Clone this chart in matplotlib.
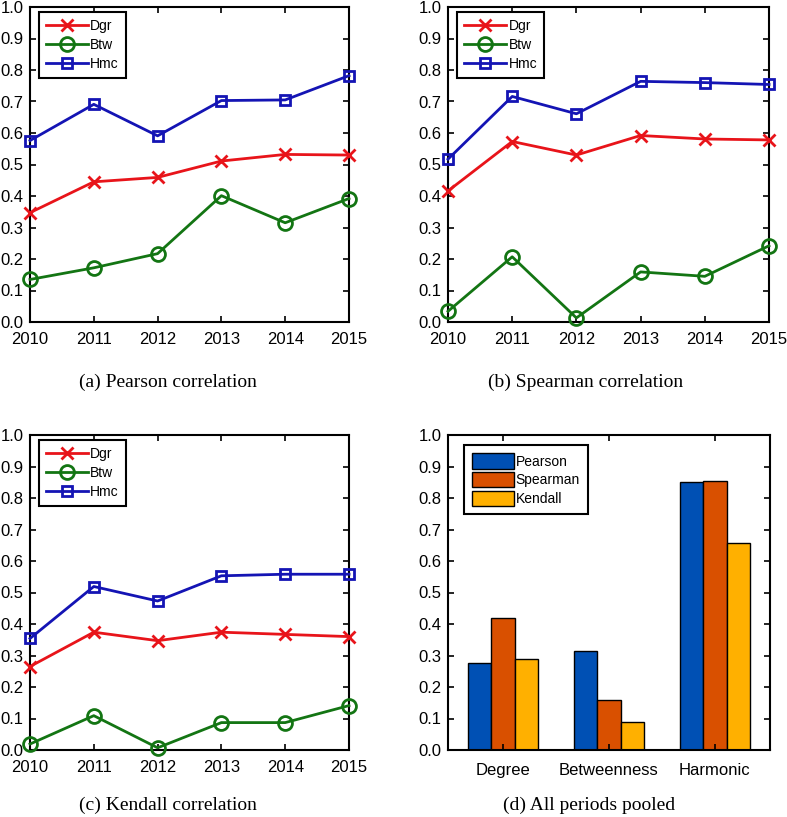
import numpy as np
import matplotlib
matplotlib.use("Agg")
from matplotlib import pyplot as plt

years = [2010, 2011, 2012, 2013, 2014, 2015]

# (a) Pearson
pearson_dgr = [0.347, 0.445, 0.459, 0.511, 0.532, 0.530]
pearson_btw = [0.135, 0.172, 0.217, 0.401, 0.315, 0.392]
pearson_hmc = [0.576, 0.691, 0.591, 0.703, 0.705, 0.782]

# (b) Spearman
spearman_dgr = [0.416, 0.573, 0.530, 0.592, 0.581, 0.578]
spearman_btw = [0.034, 0.207, 0.013, 0.159, 0.145, 0.242]
spearman_hmc = [0.517, 0.716, 0.661, 0.764, 0.760, 0.754]

# (c) Kendall
kendall_dgr = [0.265, 0.374, 0.347, 0.374, 0.367, 0.360]
kendall_btw = [0.019, 0.109, 0.007, 0.087, 0.087, 0.141]
kendall_hmc = [0.354, 0.519, 0.473, 0.553, 0.558, 0.558]

# (d) pooled
measures = ["Degree", "Betweenness", "Harmonic"]
pooled_pearson = [0.275, 0.314, 0.852]
pooled_spearman = [0.420, 0.159, 0.855]
pooled_kendall = [0.288, 0.088, 0.658]

plt.rcParams['font.family'] = ['Liberation Sans', 'DejaVu Sans']
plt.rcParams['font.size'] = 12

fig = plt.figure(figsize=(7.87, 8.17), dpi=100)

W, H = 787.0, 817.0


def make_axes(l, r, t, b):
    ax = fig.add_axes([l / W, 1 - b / H, (r - l) / W, (b - t) / H])
    for s in ax.spines.values():
        s.set_linewidth(1.5)
    ax.tick_params(direction='in', length=4, width=1.2, top=True, right=True,
                   labelsize=12)
    ax.tick_params(axis='y', pad=4.5)
    ax.tick_params(axis='x', pad=7)
    ax.set_ylim(0, 1)
    ax.set_yticks(np.arange(0, 1.01, 0.1))
    ax.set_yticklabels(["%.1f" % v for v in np.arange(0, 1.01, 0.1)])
    return ax


def line_panel(ax, dgr, btw, hmc):
    ax.plot(years, dgr, color='#e8141a', marker='x', markersize=9, mew=2,
            lw=2, label='Dgr', clip_on=False, zorder=3)
    ax.plot(years, btw, color='#137513', marker='o', markersize=10, mew=2,
            mfc='none', lw=2, label='Btw', clip_on=False, zorder=3)
    ax.plot(years, hmc, color='#1414b4', marker='s', markersize=7.5, mew=2,
            mfc='none', lw=2, label='Hmc', clip_on=False, zorder=3)
    ax.set_xlim(2010, 2015)
    ax.set_xticks(years)
    leg = ax.legend(loc='upper left', bbox_to_anchor=(0.028, 0.984),
                    borderaxespad=0, fontsize=10, handlelength=3,
                    handletextpad=0.2, labelspacing=0.35, borderpad=0.5,
                    fancybox=False, framealpha=1, edgecolor='black')
    leg.get_frame().set_linewidth(1.5)


ax_a = make_axes(30, 349, 7, 322)
line_panel(ax_a, pearson_dgr, pearson_btw, pearson_hmc)
ax_b = make_axes(448, 769, 7, 322)
line_panel(ax_b, spearman_dgr, spearman_btw, spearman_hmc)
ax_c = make_axes(30, 349, 435, 750)
line_panel(ax_c, kendall_dgr, kendall_btw, kendall_hmc)

ax_d = make_axes(448, 770, 435, 750)
x = np.arange(1, len(measures) + 1)
bw = 0.222
ax_d.bar(x - bw, pooled_pearson, bw, color='#0050b4', edgecolor='black',
         lw=1, label='Pearson')
ax_d.bar(x, pooled_spearman, bw, color='#d95000', edgecolor='black',
         lw=1, label='Spearman')
ax_d.bar(x + bw, pooled_kendall, bw, color='#ffb000', edgecolor='black',
         lw=1, label='Kendall')
ax_d.set_xlim(0.48, 3.52)
ax_d.set_xticks(x)
ax_d.set_xticklabels(measures)
ax_d.tick_params(axis='x', pad=9.5)
leg = ax_d.legend(loc='upper left', bbox_to_anchor=(0.05, 0.968),
                  borderaxespad=0, fontsize=10, handlelength=3,
                  handleheight=1.3, handletextpad=0.1, labelspacing=0.25,
                  borderpad=0.6, fancybox=False, framealpha=1,
                  edgecolor='black')
leg.get_frame().set_linewidth(1.5)

caps = [("(a) Pearson correlation", 168, 382),
        ("(b) Spearman correlation", 586, 382),
        ("(c) Kendall correlation", 168, 805),
        ("(d) All periods pooled", 589, 805)]
for txt, cx, cy in caps:
    fig.text(cx / W, 1 - cy / H, txt, ha='center', va='center',
             fontsize=14, family=['Liberation Serif', 'DejaVu Serif'])

fig.savefig("out.png", dpi=100)
